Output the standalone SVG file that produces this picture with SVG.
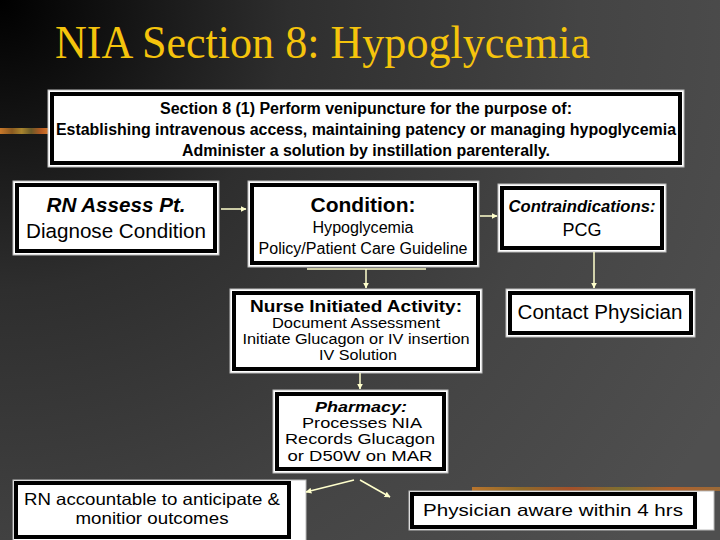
<svg xmlns="http://www.w3.org/2000/svg" width="720" height="540" viewBox="0 0 720 540">
<defs>
<radialGradient id="bg" cx="0" cy="0" r="1.15" gradientUnits="objectBoundingBox" gradientTransform="scale(1,1.333)">
<stop offset="0" stop-color="#000"/>
<stop offset="0.35" stop-color="#2e2e2e"/>
<stop offset="0.7" stop-color="#444"/>
<stop offset="1" stop-color="#4f4f4f"/>
</radialGradient>
<linearGradient id="stripe" x1="0" y1="0" x2="1" y2="0">
<stop offset="0" stop-color="#c8782a"/>
<stop offset="0.25" stop-color="#8a5a20"/>
<stop offset="0.45" stop-color="#a8842e"/>
<stop offset="0.65" stop-color="#6a5a28"/>
<stop offset="0.85" stop-color="#b45a22"/>
<stop offset="1" stop-color="#d0762a"/>
</linearGradient>
<linearGradient id="stripe2" x1="0" y1="0" x2="1" y2="0">
<stop offset="0" stop-color="#b8742c"/>
<stop offset="0.2" stop-color="#8e6a2a"/>
<stop offset="0.4" stop-color="#a4502a"/>
<stop offset="0.6" stop-color="#7e7030"/>
<stop offset="0.8" stop-color="#b0602c"/>
<stop offset="1" stop-color="#9a6a38"/>
</linearGradient>
<marker id="ah" viewBox="0 0 10 10" refX="9" refY="5" markerWidth="6" markerHeight="6" markerUnits="userSpaceOnUse" orient="auto">
<path d="M0,0 L10,5 L0,10 z" fill="#ffffcc"/>
</marker>
</defs>
<style>
.outer{fill:#fff;stroke:#bbb;stroke-width:1}
.inner{fill:none;stroke:#000;stroke-width:4}
.t{font-family:"Liberation Sans",Arial,sans-serif;fill:#000;text-anchor:middle}
.b{font-weight:bold}
.bi{font-weight:bold;font-style:italic}
.con{fill:none;stroke:#ffffcc;stroke-width:1.5}
</style>
<rect x="0" y="0" width="720" height="540" fill="url(#bg)"/>
<rect x="0" y="128" width="48" height="6" fill="url(#stripe)"/>
<rect x="472" y="487" width="248" height="4" fill="url(#stripe2)"/>
<text x="55" y="58" font-family="'Liberation Serif','Times New Roman',serif" font-size="46" fill="#f5c40c" textLength="535" lengthAdjust="spacingAndGlyphs">NIA Section 8: Hypoglycemia</text>

<g id="section">
<rect class="outer" x="48" y="90" width="636" height="77"/>
<rect class="inner" x="52" y="94" width="628" height="69"/>
<text class="t b" x="366" y="114" font-size="16" textLength="412" lengthAdjust="spacingAndGlyphs">Section 8 (1) Perform venipuncture for the purpose of:</text>
<text class="t b" x="366" y="135" font-size="16" textLength="620" lengthAdjust="spacingAndGlyphs">Establishing intravenous access, maintaining patency or managing hypoglycemia</text>
<text class="t b" x="366" y="156" font-size="16" textLength="368" lengthAdjust="spacingAndGlyphs">Administer a solution by instillation parenterally.</text>
</g>

<g id="rn-assess">
<rect class="outer" x="13" y="181" width="206" height="74"/>
<rect class="inner" x="17" y="185" width="198" height="66"/>
<text class="t bi" x="116" y="212" font-size="20" textLength="139" lengthAdjust="spacingAndGlyphs">RN Assess Pt.</text>
<text class="t" x="116" y="238" font-size="20.5" textLength="180" lengthAdjust="spacingAndGlyphs">Diagnose Condition</text>
</g>

<g id="condition">
<rect class="outer" x="248" y="181" width="231" height="86"/>
<rect class="inner" x="252" y="185" width="223" height="78"/>
<text class="t b" x="363" y="212" font-size="21" textLength="105" lengthAdjust="spacingAndGlyphs">Condition:</text>
<text class="t" x="363" y="233" font-size="16" textLength="101" lengthAdjust="spacingAndGlyphs">Hypoglycemia</text>
<text class="t" x="363" y="254" font-size="16" textLength="209" lengthAdjust="spacingAndGlyphs">Policy/Patient Care Guideline</text>
</g>

<g id="contraindications">
<rect class="outer" x="498" y="184" width="168" height="68"/>
<rect class="inner" x="502" y="188" width="160" height="60"/>
<text class="t bi" x="582" y="212" font-size="16.5" textLength="147" lengthAdjust="spacingAndGlyphs">Contraindications:</text>
<text class="t" x="582" y="236" font-size="18">PCG</text>
</g>

<g id="nurse">
<rect class="outer" x="230" y="289" width="252" height="84"/>
<rect class="inner" x="234" y="293" width="244" height="76"/>
<text class="t b" x="356" y="312" font-size="16" textLength="212" lengthAdjust="spacingAndGlyphs">Nurse Initiated Activity:</text>
<text class="t" x="356" y="328" font-size="14" textLength="168" lengthAdjust="spacingAndGlyphs">Document Assessment</text>
<text class="t" x="356" y="344" font-size="14" textLength="227" lengthAdjust="spacingAndGlyphs">Initiate Glucagon or IV insertion</text>
<text class="t" x="358" y="360" font-size="14" textLength="78" lengthAdjust="spacingAndGlyphs">IV Solution</text>
</g>

<g id="contact">
<rect class="outer" x="506" y="289" width="189" height="48"/>
<rect class="inner" x="510" y="293" width="181" height="40"/>
<text class="t" x="600" y="319" font-size="20" textLength="165" lengthAdjust="spacingAndGlyphs">Contact Physician</text>
</g>

<g id="pharmacy">
<rect class="outer" x="273" y="390" width="175" height="83"/>
<rect class="inner" x="277" y="394" width="167" height="75"/>
<text class="t bi" x="361" y="412" font-size="15" textLength="92" lengthAdjust="spacingAndGlyphs">Pharmacy:</text>
<text class="t" x="362" y="428" font-size="15" textLength="120" lengthAdjust="spacingAndGlyphs">Processes NIA</text>
<text class="t" x="360" y="444" font-size="15" textLength="150" lengthAdjust="spacingAndGlyphs">Records Glucagon</text>
<text class="t" x="360" y="461" font-size="15" textLength="145" lengthAdjust="spacingAndGlyphs">or D50W on MAR</text>
</g>

<g id="rn-accountable">
<rect class="outer" x="13" y="480" width="293" height="62"/>
<rect class="inner" x="16" y="483" width="273" height="54"/>
<text class="t" x="152" y="505" font-size="16.5" textLength="256" lengthAdjust="spacingAndGlyphs">RN accountable to anticipate &amp;</text>
<text class="t" x="152" y="524" font-size="16.5" textLength="153" lengthAdjust="spacingAndGlyphs">monitior outcomes</text>
</g>

<g id="physician-aware">
<rect class="outer" x="409" y="491" width="305" height="39"/>
<rect class="inner" x="412" y="494" width="283" height="33"/>
<text class="t" x="553" y="516" font-size="17" textLength="260" lengthAdjust="spacingAndGlyphs">Physician aware within 4 hrs</text>
</g>

<g id="connectors">
<line class="con" x1="221" y1="209" x2="246" y2="209" marker-end="url(#ah)"/>
<line class="con" x1="480" y1="216" x2="497" y2="216" marker-end="url(#ah)"/>
<line class="con" x1="594" y1="252" x2="594" y2="288" marker-end="url(#ah)"/>
<line class="con" x1="307" y1="269" x2="426" y2="269"/>
<line class="con" x1="366" y1="269" x2="366" y2="288" marker-end="url(#ah)"/>
<line class="con" x1="360" y1="373" x2="360" y2="389" marker-end="url(#ah)"/>
<line class="con" x1="354" y1="480" x2="306" y2="492" marker-end="url(#ah)"/>
<line class="con" x1="360" y1="480" x2="390" y2="497" marker-end="url(#ah)"/>
</g>
</svg>
